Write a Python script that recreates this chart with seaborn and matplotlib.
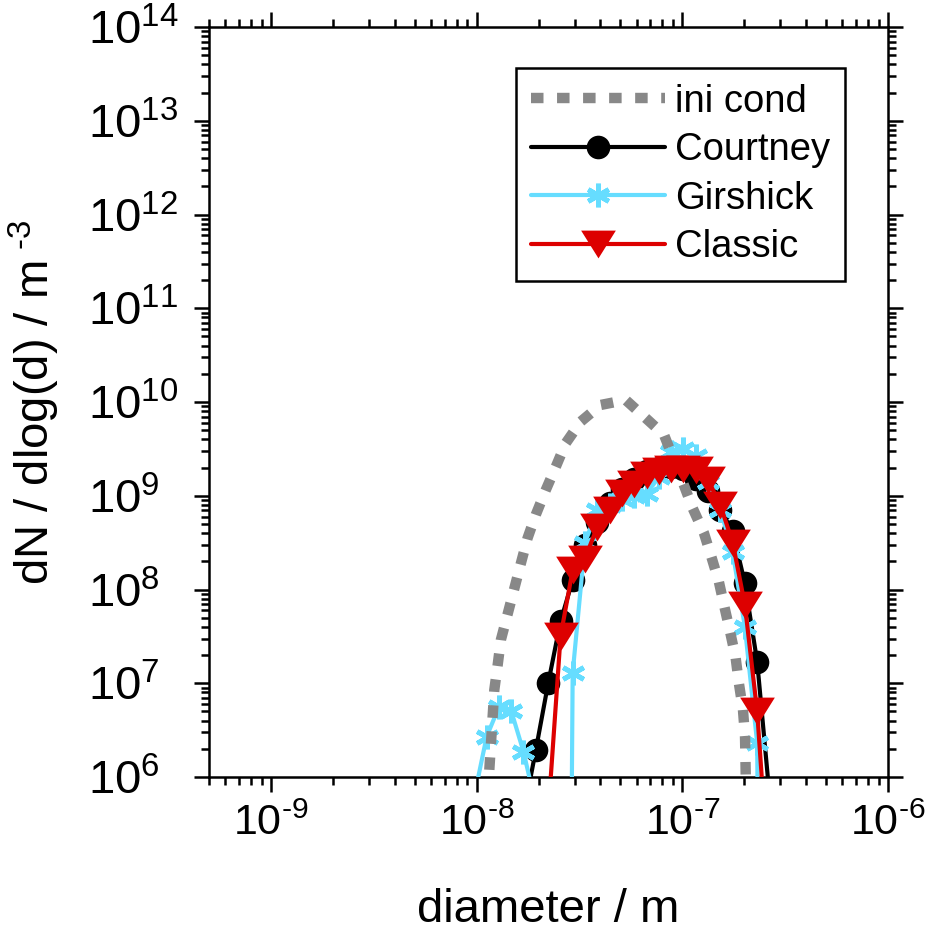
import numpy as np
import pandas as pd
import matplotlib
matplotlib.use("Agg")
import matplotlib.pyplot as plt
import seaborn as sns
from matplotlib.ticker import FixedLocator, FixedFormatter, LogLocator, NullFormatter

# ---------------- data ----------------
ini_d = [1.135e-8, 1.153e-8, 1.219e-8, 1.265e-8, 1.312e-8, 1.413e-8, 1.524e-8, 1.641e-8,
         1.770e-8, 1.941e-8, 2.168e-8, 2.427e-8, 2.710e-8, 3.206e-8, 4.009e-8, 5.309e-8,
         6.760e-8, 8.147e-8, 1.019e-7, 1.122e-7, 1.274e-7, 1.387e-7, 1.507e-7, 1.603e-7,
         1.714e-7, 1.815e-7, 1.884e-7, 1.972e-7, 2.018e-7, 2.028e-7, 2.042e-7]
ini_n = [6.3e5, 1.2e6, 8.5e6, 1.55e7, 2.9e7, 5.4e7, 1.02e8, 1.9e8,
         3.55e8, 6.3e8, 1.15e9, 2.04e9, 3.63e9, 6.17e9, 9.3e9, 1.05e10,
         6.5e9, 4.47e9, 1.29e9, 7.4e8, 4.0e8, 2.2e8, 1.2e8, 6.5e7,
         3.4e7, 1.9e7, 1.0e7, 5.2e6, 2.7e6, 1.5e6, 6.3e5]

girshick_d = [9.75e-9, 1.119e-8, 1.285e-8, 1.476e-8, 1.690e-8, 1.941e-8, 2.228e-8, 2.559e-8,
              2.931e-8, 3.365e-8, 3.864e-8, 4.436e-8, 5.082e-8, 5.834e-8, 6.699e-8, 7.691e-8,
              8.831e-8, 1.012e-7, 1.161e-7, 1.334e-7, 1.531e-7, 1.758e-7, 2.014e-7, 2.312e-7,
              2.655e-7]
girshick_n = [6.3e5, 2.7e6, 5.6e6, 5.0e6, 1.86e6, 5.0e5, 1e-10, 1e-10,
              1.29e7, 3.16e8, 7.1e8, 7.9e8, 9.3e8, 1.0e9, 1.05e9, 1.58e9,
              2.95e9, 3.16e9, 2.63e9, 1.41e9, 7.1e8, 2.5e8, 4.0e7, 2.3e6,
              1e-10]

courtney_d = [1.690e-8, 1.941e-8, 2.228e-8, 2.559e-8, 2.931e-8, 3.365e-8, 3.864e-8,
              4.436e-8, 5.082e-8, 5.834e-8, 6.699e-8, 7.691e-8, 8.831e-8, 1.012e-7,
              1.161e-7, 1.334e-7, 1.531e-7, 1.758e-7, 2.014e-7, 2.312e-7, 2.655e-7]
courtney_n = [4.0e5, 1.95e6, 1.0e7, 4.57e7, 1.26e8, 2.95e8, 5.25e8,
              8.3e8, 1.17e9, 1.51e9, 1.82e9, 2.0e9, 2.04e9, 1.91e9,
              1.51e9, 1.12e9, 7.1e8, 4.17e8, 1.17e8, 1.7e7, 6.3e5]

classic_d = [2.228e-8, 2.559e-8, 2.931e-8, 3.365e-8, 3.864e-8, 4.436e-8, 5.082e-8,
             5.834e-8, 6.699e-8, 7.691e-8, 8.831e-8, 1.012e-7, 1.161e-7, 1.334e-7,
             1.531e-7, 1.758e-7, 2.014e-7, 2.312e-7, 2.655e-7]
classic_n = [4.0e5, 3.16e7, 1.62e8, 2.14e8, 4.68e8, 7.08e8, 1.07e9,
             1.35e9, 1.66e9, 1.82e9, 1.91e9, 1.91e9, 1.86e9, 1.48e9,
             7.94e8, 3.16e8, 6.9e7, 5.0e6, 6.3e4]

series_labels = ["ini cond", "Courtney", "Girshick", "Classic"]

x_ticks = [1e-9, 1e-8, 1e-7, 1e-6]
x_tick_labels = [r"10$^{\text{-9}}$", r"10$^{\text{-8}}$", r"10$^{\text{-7}}$", r"10$^{\text{-6}}$"]
y_ticks = [1e6, 1e7, 1e8, 1e9, 1e10, 1e11, 1e12, 1e13, 1e14]
y_tick_labels = [r"10$^{6}$", r"10$^{7}$", r"10$^{8}$", r"10$^{9}$", r"10$^{10}$",
                 r"10$^{11}$", r"10$^{12}$", r"10$^{13}$", r"10$^{14}$"]
x_label = "diameter / m"
y_label = r"dN / dlog(d) / m$^{\text{ -3}}$"

# ---------------- style ----------------
sns.set_style("ticks")
plt.rcParams["font.family"] = ["Liberation Sans", "DejaVu Sans"]
plt.rcParams["mathtext.fontset"] = "custom"
plt.rcParams["mathtext.rm"] = "Liberation Sans"
plt.rcParams["mathtext.it"] = "Liberation Sans:italic"
plt.rcParams["mathtext.bf"] = "Liberation Sans:bold"
plt.rcParams["mathtext.default"] = "regular"
plt.rcParams["text.color"] = "black"
plt.rcParams["axes.labelcolor"] = "black"
plt.rcParams["xtick.color"] = "black"
plt.rcParams["ytick.color"] = "black"
plt.rcParams["axes.edgecolor"] = "black"

fig = plt.figure(figsize=(9.25, 9.35), dpi=100)
ax = fig.add_axes([209 / 925, (935 - 777) / 935, (888 - 209) / 925, (777 - 27) / 935])
ax.set_xscale("log")
ax.set_yscale("log")

GRAY, BLACK, CYAN, RED = "#888888", "#000000", "#66DDFF", "#DD0000"
tri_down = [(-1.0, 0.8), (1.0, 0.8), (0.0, -0.8)]

sns.lineplot(x=courtney_d, y=courtney_n, ax=ax, color=BLACK, lw=3.0, marker="o",
             markersize=17, markerfacecolor=BLACK, markeredgecolor=BLACK,
             markeredgewidth=0, zorder=2, label=series_labels[1])
sns.lineplot(x=girshick_d, y=girshick_n, ax=ax, color=CYAN, lw=3.0, marker=(6, 2, 0),
             markersize=17, markerfacecolor=CYAN, markeredgecolor=CYAN,
             markeredgewidth=3.5, zorder=3, label=series_labels[2])
sns.lineplot(x=ini_d, y=ini_n, ax=ax, color=GRAY, lw=7.5, linestyle=(0, (1.2, 1.3)),
             zorder=4, label=series_labels[0])
sns.lineplot(x=classic_d, y=classic_n, ax=ax, color=RED, lw=3.0, marker=tri_down,
             markersize=25, markerfacecolor=RED, markeredgecolor=RED,
             markeredgewidth=0, zorder=5, label=series_labels[3])

ax.set_xlim(5e-10, 1e-6)
ax.set_ylim(1e6, 1e14)

ax.xaxis.set_major_locator(FixedLocator(x_ticks))
ax.xaxis.set_major_formatter(FixedFormatter(x_tick_labels))
ax.xaxis.set_minor_locator(LogLocator(base=10, subs=np.arange(2, 10), numticks=30))
ax.xaxis.set_minor_formatter(NullFormatter())
ax.yaxis.set_major_locator(FixedLocator(y_ticks))
ax.yaxis.set_major_formatter(FixedFormatter(y_tick_labels))
ax.yaxis.set_minor_locator(LogLocator(base=10, subs=np.arange(2, 10), numticks=30))
ax.yaxis.set_minor_formatter(NullFormatter())

ax.tick_params(which="both", direction="out", top=True, right=True, width=1.8)
ax.tick_params(which="major", length=11)
ax.tick_params(which="minor", length=5.5)
ax.tick_params(axis="x", which="major", pad=8, labelsize=31)
ax.tick_params(axis="y", which="major", pad=76, labelsize=34)
for lab in ax.get_yticklabels():
    lab.set_horizontalalignment("left")

for sp in ax.spines.values():
    sp.set_linewidth(1.8)
    sp.set_color("black")

ax.set_xlabel(x_label, fontsize=34, labelpad=32)
ax.set_ylabel(y_label, fontsize=34, labelpad=19)

handles, labels = ax.get_legend_handles_labels()
order = [labels.index(l) for l in series_labels]
leg = ax.legend([handles[i] for i in order], [labels[i] for i in order],
                loc="upper right", bbox_to_anchor=(0.937, 0.945), borderaxespad=0,
                frameon=True, fancybox=False, framealpha=1, edgecolor="black",
                fontsize=27.5, handlelength=3.5, handletextpad=0.27,
                borderpad=0.4, labelspacing=0.33, numpoints=1)
leg.get_frame().set_linewidth(1.8)

fig.savefig("out.png", dpi=100)
